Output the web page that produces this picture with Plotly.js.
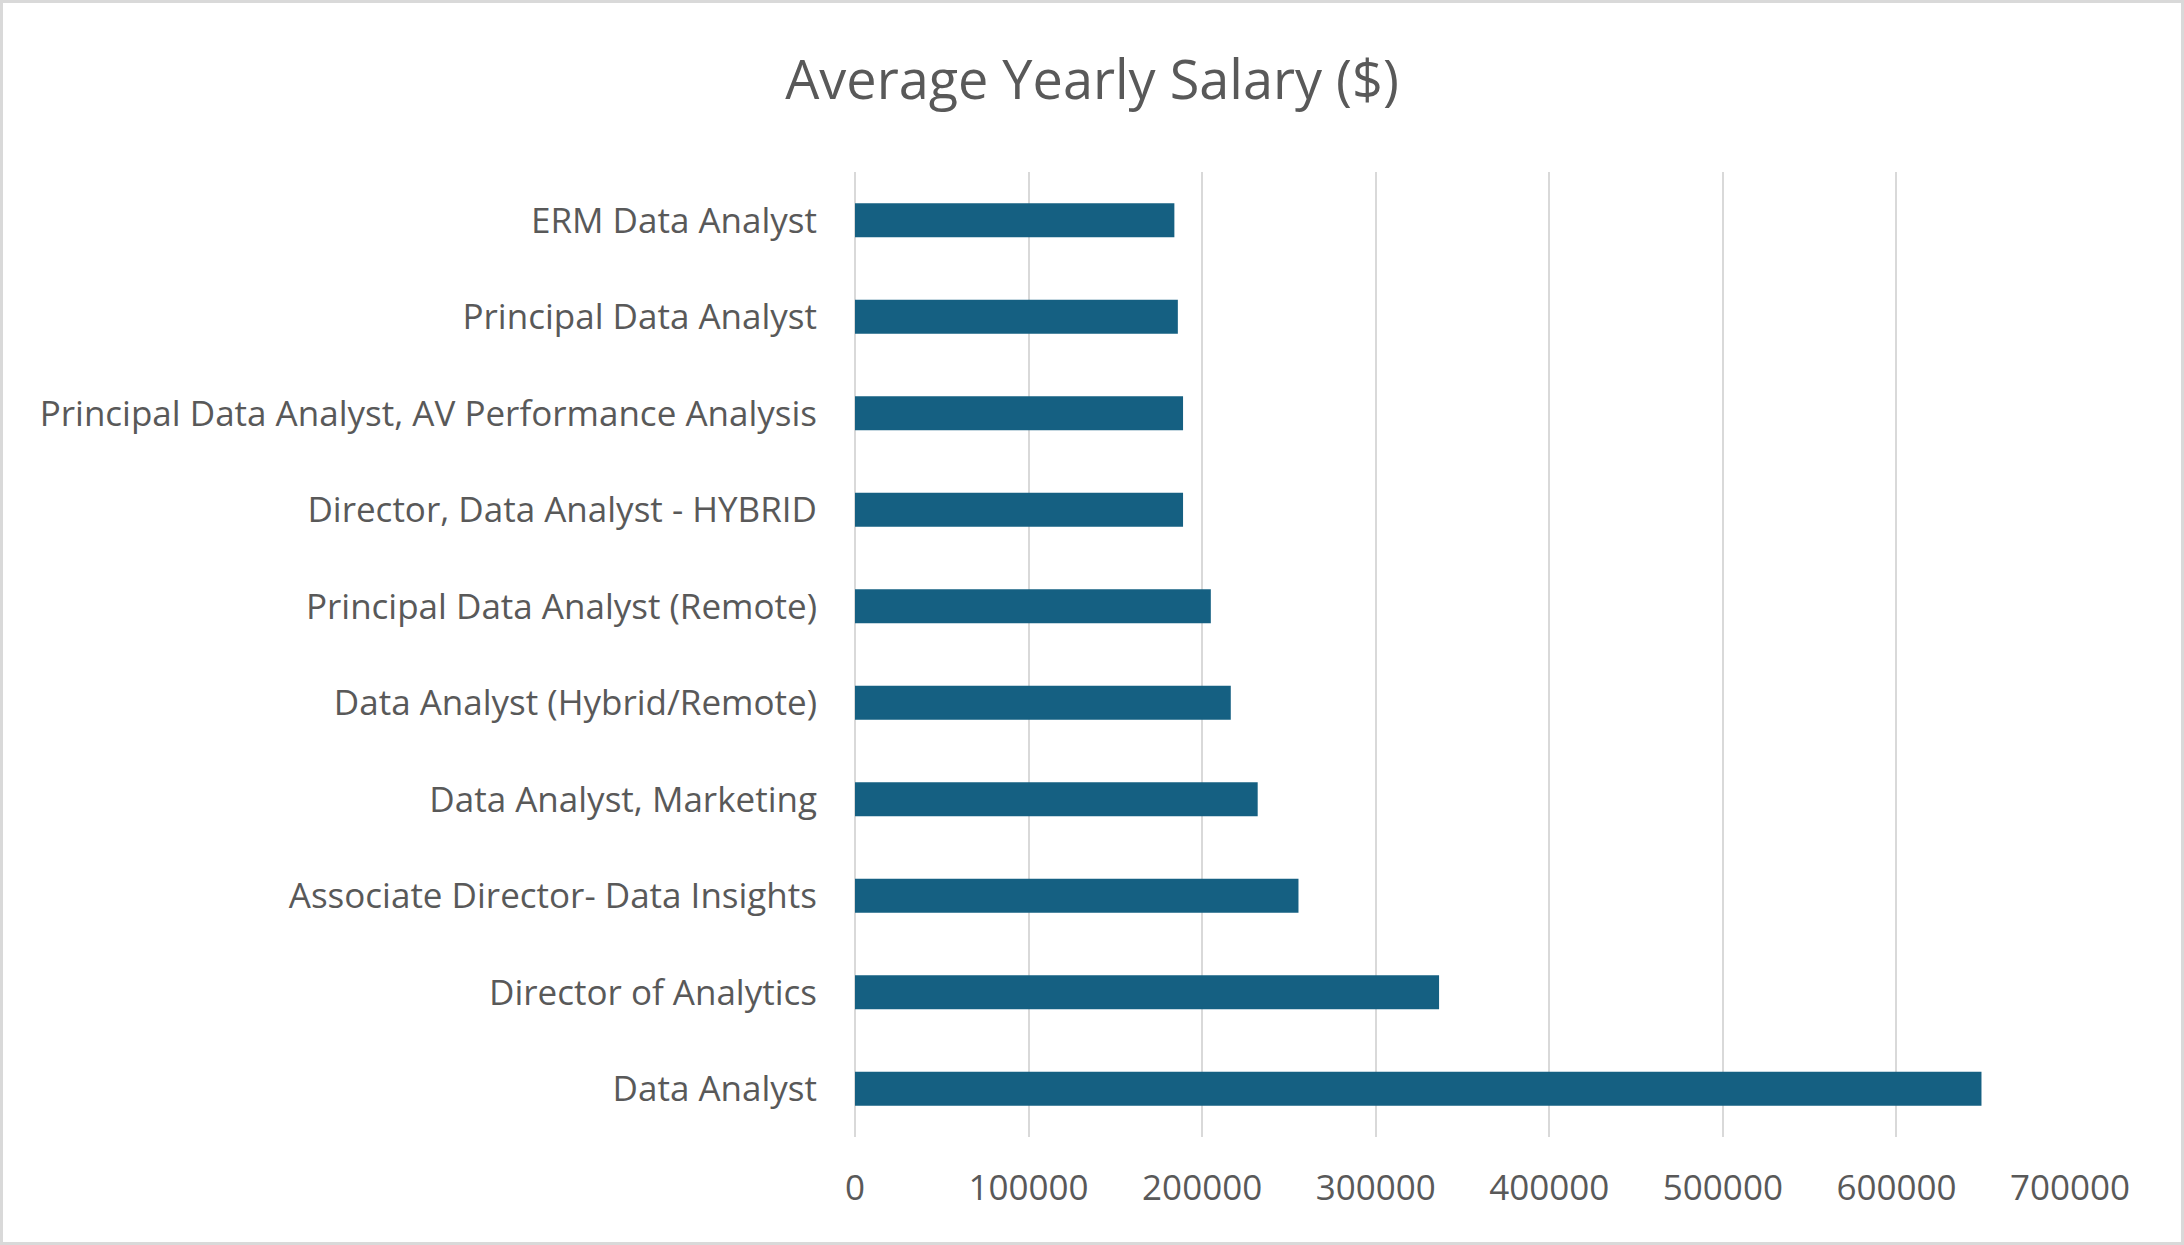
<!DOCTYPE html>
<html>
<head>
<meta charset="utf-8">
<script src="https://cdn.plot.ly/plotly-3.0.1.min.js"></script>
<style>
  html, body { margin: 0; padding: 0; background: #fff; }
  #chart { width: 2184px; height: 1245px; box-sizing: border-box; border: 3px solid #d9d9d9; }
</style>
</head>
<body>
<div id="chart"></div>
<script>
// job titles, top to bottom as shown
let jobTitles = [
    'ERM Data Analyst',
    'Principal Data Analyst',
    'Principal Data Analyst, AV Performance Analysis',
    'Director, Data Analyst - HYBRID',
    'Principal Data Analyst (Remote)',
    'Data Analyst (Hybrid/Remote)',
    'Data Analyst, Marketing',
    'Associate Director- Data Insights',
    'Director of Analytics',
    'Data Analyst'
];
let avgSalary = [184000, 186000, 189000, 189000, 205000, 216500, 232000, 255500, 336500, 649000];
let xTicks = [0, 100000, 200000, 300000, 400000, 500000, 600000, 700000];

let textColor = '#595959';
let fontFamily = '"Open Sans", Lato, sans-serif';

let trace = {
    type: 'bar',
    orientation: 'h',
    x: avgSalary,
    y: jobTitles,
    marker: { color: '#156082' },
    hoverinfo: 'none'
};

let layout = {
    width: 2178,
    height: 1239,
    paper_bgcolor: '#ffffff',
    plot_bgcolor: '#ffffff',
    showlegend: false,
    bargap: 0.65,
    font: { family: fontFamily, color: textColor, size: 35 },
    title: {
        text: 'Average Yearly Salary ($)',
        font: { family: fontFamily, size: 54, color: textColor },
        x: 0.5,
        xref: 'container',
        xanchor: 'center',
        y: 0.938,
        yref: 'container',
        yanchor: 'middle'
    },
    margin: { t: 169, b: 105, l: 852, r: 111 },
    xaxis: {
        range: [0, 700000],
        tickvals: xTicks,
        ticktext: xTicks.map(String),
        showgrid: true,
        gridcolor: '#d9d9d9',
        gridwidth: 2,
        zeroline: true,
        zerolinecolor: '#d9d9d9',
        zerolinewidth: 2,
        showline: false,
        ticks: '',
        ticklabelstandoff: 27,
        tickfont: { size: 35, color: textColor }
    },
    yaxis: {
        autorange: 'reversed',
        showgrid: false,
        showline: false,
        ticks: '',
        ticklabelstandoff: 37,
        tickfont: { size: 35, color: textColor }
    }
};

Plotly.newPlot('chart', [trace], layout, { displayModeBar: false, staticPlot: true });
</script>
</body>
</html>
